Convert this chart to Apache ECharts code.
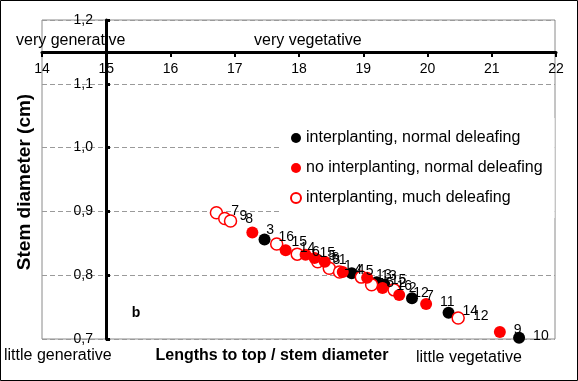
<!DOCTYPE html>
<html><head><meta charset="utf-8">
<script src="https://cdn.jsdelivr.net/npm/echarts/dist/echarts.min.js"></script>
<style>html,body{margin:0;padding:0;background:#fff}#c{width:578px;height:381px}</style>
</head><body><div id="c"></div>
<script>
// Data
const seriesNames = ['interplanting, normal deleafing', 'no interplanting, normal deleafing', 'interplanting, much deleafing'];
const xTickLabels = ['14','15','16','17','18','19','20','21','22'];
const yTickLabels = ['0,7','0,8','0,9','1,0','1,1','1,2'];

const blackX = [17.47, 18.30, 18.83, 19.22, 19.34, 19.77, 20.34, 21.44];
const blackY = [0.856, 0.824, 0.803, 0.789, 0.785, 0.764, 0.741, 0.702];
const blackLbl = ['16','6','5','15','2','7','14','10'];

const redX = [17.28, 17.80, 18.11, 18.25, 18.41, 18.69, 19.07, 19.31, 19.57, 19.99, 21.14];
const redY = [0.867, 0.839, 0.832, 0.827, 0.821, 0.805, 0.796, 0.780, 0.769, 0.755, 0.711];
const redLbl = ['3','14','15','5','1','4','13','16','12','11','9'];

const openX = [16.72, 16.85, 16.94, 17.66, 17.98, 18.30, 18.48, 18.64, 18.98, 19.14, 19.49, 20.49];
const openY = [0.898, 0.889, 0.885, 0.849, 0.833, 0.821, 0.811, 0.805, 0.797, 0.785, 0.777, 0.733];
const openLbl = ['7','9','8','15','6','3','1','4','13','5','2','12'];

const F = '"Liberation Sans", Arial, sans-serif';
const mk = (xs, ys, ls) => xs.map((x, i) => ({ value: [x, ys[i]], name: ls[i] }));
const lbl = { show: true, position: 'right', distance: 8, offset: [0, -2], formatter: '{b}', fontSize: 14, color: '#000', fontFamily: F };

const chart = echarts.init(document.getElementById('c'), null, { renderer: 'canvas' });
chart.setOption({
  animation: false,
  backgroundColor: '#fff',
  textStyle: { fontFamily: F },
  grid: [
    { left: 42, top: 20, width: 513, height: 319, show: true, borderColor: '#8a8a8a', borderWidth: 1, backgroundColor: 'transparent' },
    { left: 42, top: 52, width: 514, height: 287 },
    { left: 106, top: 20, width: 449, height: 319 }
  ],
  xAxis: [
    { gridIndex: 0, type: 'value', min: 14, max: 22, show: false },
    { gridIndex: 1, type: 'value', min: 14, max: 22, interval: 1, position: 'top',
      axisLine: { onZero: false, lineStyle: { color: '#000', width: 3 } },
      axisTick: { inside: true, length: 5, lineStyle: { color: '#000', width: 2 } },
      axisLabel: { inside: true, margin: 10, color: '#000', fontSize: 14, fontFamily: F,
        formatter: (v) => xTickLabels[Math.round(v - 14)] },
      splitLine: { show: false } },
    { gridIndex: 2, type: 'value', min: 15, max: 22, show: false }
  ],
  yAxis: [
    { gridIndex: 0, type: 'value', min: 0.7, max: 1.2, interval: 0.1,
      axisLine: { show: false }, axisTick: { show: false }, axisLabel: { show: false },
      splitLine: { lineStyle: { color: '#9a9a9a', type: [5, 3], width: 1 } } },
    { gridIndex: 1, type: 'value', min: 0, max: 1, show: false },
    { gridIndex: 2, type: 'value', min: 0.7, max: 1.2, interval: 0.1,
      axisLine: { onZero: false, lineStyle: { color: '#000', width: 3 } },
      axisTick: { inside: true, length: 4, lineStyle: { color: '#000', width: 3 } },
      axisLabel: { margin: 13, color: '#000', fontSize: 14, fontFamily: F,
        formatter: (v) => yTickLabels[Math.round((v - 0.7) * 10)] },
      splitLine: { show: false } }
  ],
  legend: {
    data: seriesNames, orient: 'vertical', left: 282, top: 118,
    padding: [12, 12, 12, 8], backgroundColor: '#fff',
    itemWidth: 10, itemHeight: 16, itemGap: 14, icon: 'circle',
    textStyle: { fontSize: 16, color: '#000', fontFamily: F }
  },
  series: [
    { name: seriesNames[0], type: 'scatter', xAxisIndex: 0, yAxisIndex: 0, symbolSize: 12,
      itemStyle: { color: '#000', opacity: 1 }, label: lbl, data: mk(blackX, blackY, blackLbl) },
    { name: seriesNames[2], type: 'scatter', xAxisIndex: 0, yAxisIndex: 0, symbolSize: 12,
      itemStyle: { color: '#fff', borderColor: '#ff0000', borderWidth: 1.5, opacity: 1 }, label: lbl, data: mk(openX, openY, openLbl) },
    { name: seriesNames[1], type: 'scatter', xAxisIndex: 0, yAxisIndex: 0, symbolSize: 12,
      itemStyle: { color: '#ff0000', opacity: 1 }, label: lbl, data: mk(redX, redY, redLbl) }
  ],
  graphic: [
    { type: 'rect', shape: { x: 0.5, y: 0.5, width: 577, height: 380 }, style: { fill: 'none', stroke: '#000', lineWidth: 1 }, silent: true },
    { type: 'text', x: 16, y: 41, style: { text: 'very generative', font: '16px ' + F, fill: '#000', align: 'left', verticalAlign: 'middle' } },
    { type: 'text', x: 254, y: 41, style: { text: 'very vegetative', font: '16px ' + F, fill: '#000', align: 'left', verticalAlign: 'middle' } },
    { type: 'text', x: 4, y: 356, style: { text: 'little generative', font: '16px ' + F, fill: '#000', align: 'left', verticalAlign: 'middle' } },
    { type: 'text', x: 272, y: 356, style: { text: 'Lengths to top / stem diameter', font: 'bold 16px ' + F, fill: '#000', align: 'center', verticalAlign: 'middle' } },
    { type: 'text', x: 416, y: 358, style: { text: 'little vegetative', font: '16px ' + F, fill: '#000', align: 'left', verticalAlign: 'middle' } },
    { type: 'text', x: 136, y: 313, style: { text: 'b', font: 'bold 14px ' + F, fill: '#000', align: 'center', verticalAlign: 'middle' } },
    { type: 'text', x: 25, y: 182, rotation: Math.PI / 2, style: { text: 'Stem diameter (cm)', font: 'bold 19px ' + F, fill: '#000', align: 'center', verticalAlign: 'middle' } }
  ]
});
</script>
</body></html>
